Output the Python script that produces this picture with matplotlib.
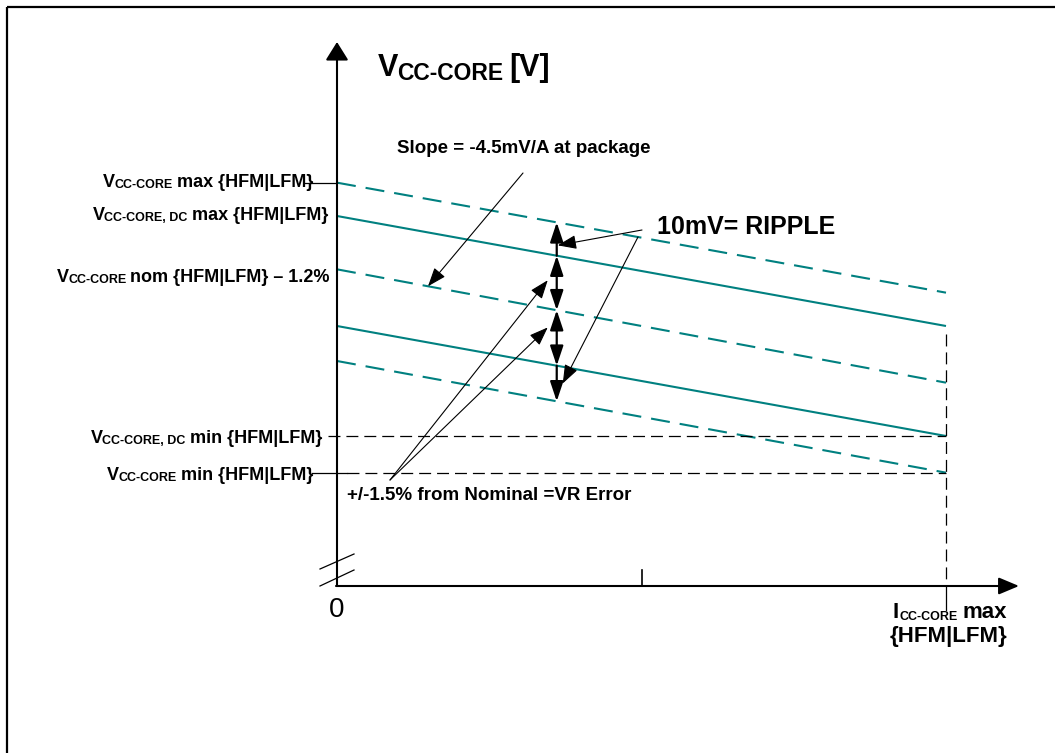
import matplotlib
matplotlib.use('Agg')
import matplotlib.pyplot as plt
import numpy as np
from matplotlib.transforms import Affine2D, offset_copy

plt.rcParams['font.family'] = ['Liberation Sans', 'DejaVu Sans']
plt.rcParams['lines.scale_dashes'] = False

# ---- data (schematic load line) ----
I_MAX = 7.4                      # Icc-core max [A]
current = [0.0, I_MAX]
# order: max, DC max, nom-1.2%, DC min, min
v_start = [1.221, 1.211, 1.195, 1.178, 1.1675]   # V at I = 0
v_end = [1.188, 1.178, 1.161, 1.145, 1.134]      # V at I = I_MAX
line_kind = ['dash', 'solid', 'dash', 'solid', 'dash']
V_FLOOR = 1.100                  # where the (broken) V axis starts
I_MARK = 2.67                    # where the ripple / error arrows sit

left_labels = [
    [('V', 13, 0, 0), ('CC-CORE', 9, -1, -0.5), ('max {HFM|LFM}', 13, 0, 4)],
    [('V', 13, 0, 0), ('CC-CORE, DC', 9, -1, -0.5), ('max {HFM|LFM}', 13, 0, 4)],
    [('V', 13, 0, 0), ('CC-CORE', 9, -1, -0.5), ('nom {HFM|LFM} \u2013 1.2%', 13, 0, 4)],
    [('V', 13, 0, 0), ('CC-CORE, DC', 9, -1, -0.5), ('min {HFM|LFM}', 13, 0, 4)],
    [('V', 13, 0, 0), ('CC-CORE', 9, -1, -0.5), ('min {HFM|LFM}', 13, 0, 4)],
]
left_label_pos = [(313, 187), (328, 220), (330, 282), (322, 443), (313, 480)]

TEAL = '#008080'
W, H = 1055, 753
X0, Y0 = 337, 586                # pixel corner of the axes
PX_PER_A = 609 / I_MAX
V_PER_PX = 0.0003

fig = plt.figure(figsize=(W / 100, H / 100), dpi=100)
ax = fig.add_axes([0, 0, 1, 1])
ax.set_xlim(-X0 / PX_PER_A, (W - X0) / PX_PER_A)
ax.set_ylim(V_FLOOR - (H - Y0) * V_PER_PX, V_FLOOR + Y0 * V_PER_PX)
ax.axis('off')
px = Affine2D().scale(1, -1).translate(0, H)   # pixel coords, origin top-left
renderer = fig.canvas.get_renderer()


def dx(p):
    return p / PX_PER_A


def dv(p):
    return p * V_PER_PX


def vat(i, x):
    return np.interp(x, current, [v_start[i], v_end[i]])


def rich(x, y, parts, ha='left', weight='bold'):
    # parts: (text, size, dy in px, gap before in px)
    items = []
    total = 0
    for s, size, dy, gap in parts:
        t = ax.text(x, y, s, fontsize=size, fontweight=weight, va='baseline',
                    ha='left', transform=px)
        w = t.get_window_extent(renderer).width
        items.append((t, total + gap, dy))
        total += gap + w
    shift = {'left': 0, 'center': -total / 2, 'right': -total}[ha]
    for t, off, dy in items:
        t.set_transform(offset_copy(px, fig=fig, x=off + shift, y=dy, units='dots'))


# frame (left + top only)
ax.plot([7, 7], [7, H], color='k', lw=1.6, transform=px, solid_capstyle='butt')
ax.plot([7, W], [7, 7], color='k', lw=1.6, transform=px, solid_capstyle='butt')

# load lines
for v0, v1, kind in zip(v_start, v_end, line_kind):
    ls = (0, (13.7, 7.2)) if kind == 'dash' else '-'
    ax.plot(current, [v0, v1], color=TEAL, lw=1.5, ls=ls, solid_capstyle='butt')

# black guide lines
kdash = (0, (8.6, 4.3))
ax.plot([dx(-32), 0], [v_start[0]] * 2, color='k', lw=0.9)
ax.plot([dx(-9), I_MAX], [v_end[3]] * 2, color='k', lw=0.9, ls=kdash)
ax.plot([dx(-25), dx(10)], [v_end[4]] * 2, color='k', lw=0.9)
ax.plot([dx(10), I_MAX], [v_end[4]] * 2, color='k', lw=0.9, ls=kdash)
ax.plot([I_MAX] * 2, [v_end[1] - dv(8), V_FLOOR], color='k', lw=0.9, ls=kdash)
ax.plot([I_MAX] * 2, [V_FLOOR, V_FLOOR - dv(24)], color='k', lw=0.9)

# axes with arrows
ax.annotate('', xy=(0, V_FLOOR + dv(544)), xytext=(0, V_FLOOR),
            arrowprops=dict(arrowstyle='-|>,head_length=0.4,head_width=0.25',
                            mutation_scale=28, lw=1.5, color='k', shrinkA=0, shrinkB=0))
ax.annotate('', xy=(dx(682), V_FLOOR), xytext=(dx(-1), V_FLOOR),
            arrowprops=dict(arrowstyle='-|>,head_length=0.62,head_width=0.26',
                            mutation_scale=20, lw=1.5, color='k', shrinkA=0, shrinkB=0))
ax.plot([I_MAX / 2] * 2, [V_FLOOR, V_FLOOR + dv(16)], color='k', lw=1.2)
# axis break marks
ax.plot([dx(-17), dx(17)], [V_FLOOR + dv(17), V_FLOOR + dv(32)], color='k', lw=0.9)
ax.plot([dx(-17), dx(17)], [V_FLOOR, V_FLOOR + dv(16)], color='k', lw=0.9)

# ripple / error arrows on the lines
ys = [vat(i, I_MARK) for i in range(5)]
one = 'head_length=1.2,head_width=0.4'
for (a, b), st in zip([(1, 0), (1, 2), (2, 3), (3, 4)], ['-|>', '<|-|>', '<|-|>', '-|>']):
    ax.annotate('', xy=(I_MARK, ys[b]), xytext=(I_MARK, ys[a]),
                arrowprops=dict(arrowstyle=st + ',' + one, mutation_scale=10,
                                lw=1.6, color='k', shrinkA=0, shrinkB=0))

thin = dict(arrowstyle='-|>,head_length=1.15,head_width=0.43', mutation_scale=10,
            lw=0.8, color='k', shrinkA=0, shrinkB=0)
# slope
ax.annotate('', xy=(dx(91), vat(2, dx(91))), xytext=(523, 173), textcoords=px, arrowprops=thin)
# ripple
ax.annotate('', xy=(I_MARK + dx(1), ys[0] + 0.69 * (ys[1] - ys[0])), xytext=(642, 230),
            textcoords=px, arrowprops=thin)
ax.annotate('', xy=(I_MARK + dx(6), (ys[3] + ys[4]) / 2), xytext=(638, 237),
            textcoords=px, arrowprops=thin)
# +/-1.5 %
xe = I_MARK - dx(9)
ax.annotate('', xy=(xe, vat(1, xe) + 0.48 * (vat(2, xe) - vat(1, xe))), xytext=(390, 480),
            textcoords=px, arrowprops=thin)
ax.annotate('', xy=(xe, vat(2, xe) + 0.34 * (vat(3, xe) - vat(2, xe))), xytext=(390, 480),
            textcoords=px, arrowprops=thin)

# texts
rich(378, 76, [('V', 22, 0, 0), ('CC-CORE', 16.5, -4, -1.5), ('[V]', 22, 0, 6)])
for parts, (xr, yb) in zip(left_labels, left_label_pos):
    rich(xr, yb, parts, ha='right')
rich(397, 153, [('Slope = -4.5mV/A at package', 13.5, 0, 0)])
rich(657, 234, [('10mV= RIPPLE', 18, 0, 0)])
rich(347, 500, [('+/-1.5% from Nominal =VR Error', 13.5, 0, 0)])
rich(950, 618, [('I', 16, 0, 0), ('CC-CORE', 9, -2, 0.5), ('max', 16, 0, 5)], ha='center')
rich(949, 642, [('{HFM|LFM}', 16, 0, 0)], ha='center')
rich(337, 617, [('0', 20, 0, 0)], ha='center', weight='normal')

fig.savefig('out.png', dpi=100)
